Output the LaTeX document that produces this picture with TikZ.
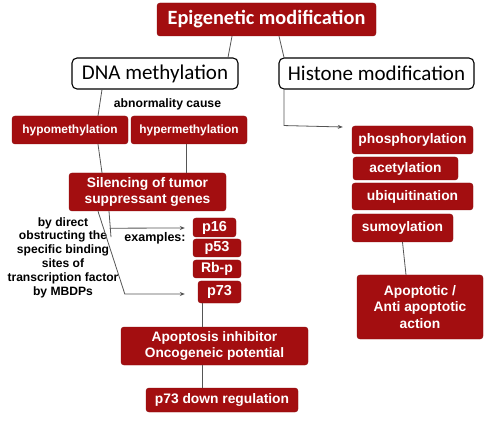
\documentclass[tikz,border=0pt]{standalone}
\usepackage{fontspec}
\setmainfont{Liberation Sans}
\newfontfamily\calibri{Carlito}
\usetikzlibrary{arrows.meta,calc}
\definecolor{dred}{RGB}{163,14,16}
\definecolor{lgray}{RGB}{85,85,85}
\tikzset{
  redbox/.style={fill=dred,draw=dred!85!black,line width=0.4pt,rounded corners=3pt,text=white,font=\bfseries,inner sep=0pt,align=center},
  whitebox/.style={fill=white,draw=black,line width=1.1pt,rounded corners=5pt,inner sep=0pt,font=\calibri\fontsize{21}{23}\selectfont},
  conn/.style={draw=lgray,line width=0.8pt},
  arr/.style={conn,-{Stealth[length=5pt,width=4pt]}},
  lbl/.style={font=\bfseries,inner sep=0pt,align=center}
}
\begin{document}
\begin{tikzpicture}[x=1pt,y=-1pt]
\useasboundingbox (0,0) rectangle (500,427);
% top
\node[redbox,minimum width=219pt,minimum height=33pt,font=\calibri\bfseries\fontsize{20.3}{22}\selectfont] (epi) at (266.5,19.5) {Epigenetic modification};
\node[whitebox,minimum width=166pt,minimum height=31pt] (dna) at (155,73.5) {DNA methylation};
\node[whitebox,minimum width=195pt,minimum height=31pt] (his) at (376.5,73.5) {Histone modification};
\node[lbl,font=\bfseries\fontsize{12.2}{14}\selectfont] (abn) at (167.5,104) {abnormality cause};
% left branch
\node[redbox,minimum width=116pt,minimum height=28pt,font=\bfseries\fontsize{11.9}{14}\selectfont] (hypo) at (70,130) {hypomethylation};
\node[redbox,minimum width=116pt,minimum height=28pt,font=\bfseries\fontsize{11.9}{14}\selectfont] (hyper) at (189,130) {hypermethylation};
\node[redbox,minimum width=157pt,minimum height=38pt,font=\bfseries\fontsize{13.8}{16}\selectfont] (sil) at (147.5,192) {Silencing of tumor\\suppressant genes};
\node[lbl,font=\bfseries\fontsize{12.1}{13.8}\selectfont] (obs) at (63,257.5) {by direct\\obstructing the\\specific binding\\sites of\\transcription factor\\by MBDPs};
\node[lbl,font=\bfseries\fontsize{12.5}{14}\selectfont] (ex) at (155,238) {examples:};
\node[redbox,minimum width=43pt,minimum height=19pt,font=\bfseries\fontsize{14.5}{15}\selectfont] (p16) at (214.5,227.5) {p16};
\node[redbox,minimum width=48pt,minimum height=18pt,font=\bfseries\fontsize{14.5}{15}\selectfont] (p53) at (217,248) {p53};
\node[redbox,minimum width=48pt,minimum height=18pt,font=\bfseries\fontsize{14}{15}\selectfont] (rbp) at (217,269) {Rb-p};
\node[redbox,minimum width=43pt,minimum height=22pt,font=\bfseries\fontsize{14.5}{15}\selectfont] (p73) at (219.5,292) {p73};
\node[redbox,minimum width=187pt,minimum height=38pt,font=\bfseries\fontsize{13.7}{16}\selectfont] (apo) at (214.5,346) {Apoptosis inhibitor\\Oncogeneic potential};
\node[redbox,minimum width=152pt,minimum height=24pt,font=\bfseries\fontsize{13.8}{15}\selectfont] (pdr) at (222,400) {p73 down regulation};
% right branch
\node[redbox,minimum width=121pt,minimum height=28pt,font=\bfseries\fontsize{13.8}{15}\selectfont] (phos) at (412.5,140) {phosphorylation};
\node[redbox,minimum width=105pt,minimum height=23pt,font=\bfseries\fontsize{13.8}{15}\selectfont] (acet) at (405.5,168.5) {acetylation};
\node[redbox,minimum width=121pt,minimum height=27pt,font=\bfseries\fontsize{13.8}{15}\selectfont] (ubiq) at (412.5,196.5) {ubiquitination};
\node[redbox,minimum width=101pt,minimum height=28pt,font=\bfseries\fontsize{13.8}{15}\selectfont] (sumo) at (402.5,228) {sumoylation};
\node[redbox,minimum width=126pt,minimum height=64pt,font=\bfseries\fontsize{13.8}{16.8}\selectfont] (apt) at (420,307) {Apoptotic /\\Anti apoptotic\\action};
% connectors
\draw[conn] ([xshift=-34.5pt]epi.south) -- ([xshift=73pt]dna.north);
\draw[conn] ([xshift=12.5pt]epi.south) -- ([xshift=-92.5pt]his.north);
\draw[conn] ([xshift=-53pt]dna.south) -- ([xshift=28pt]hypo.north);
\draw[conn] ([xshift=28pt]hypo.south) -- ([xshift=-45.5pt]sil.north);
\draw[conn] ([xshift=-3pt]hyper.south) -- ([xshift=-3pt]hyper.south |- sil.north);
\coordinate (c1) at ($(p73.west)+(-73,2)$);
\draw[arr] ([xshift=-49.5pt]sil.south) -- (c1) -- ($(p73.west)+(-13,2)$);
\coordinate (c2) at ($(sil.south)+(-36.5,26)$);
\draw[conn] ([xshift=-38.5pt]sil.south) -- (c2);
\draw[arr] ($(sil.south)+(-38,17)$) -- ($(p16.west)+(-8,0.5)$);
\draw[conn] ([xshift=-17.5pt]p73.south) -- ([xshift=-17.5pt]p73.south |- apo.north);
\draw[conn] ([xshift=-12.5pt]apo.south) -- ([xshift=-12.5pt]apo.south |- pdr.north);
\coordinate (c3) at ($(his.south)+(-92.5,36)$);
\draw[arr] ([xshift=-92.5pt]his.south) -- (c3) -- ($(phos.west)+(-9,-13)$);
\draw[conn] (sumo.south) -- ([xshift=-14pt]apt.north);
\end{tikzpicture}
\end{document}
